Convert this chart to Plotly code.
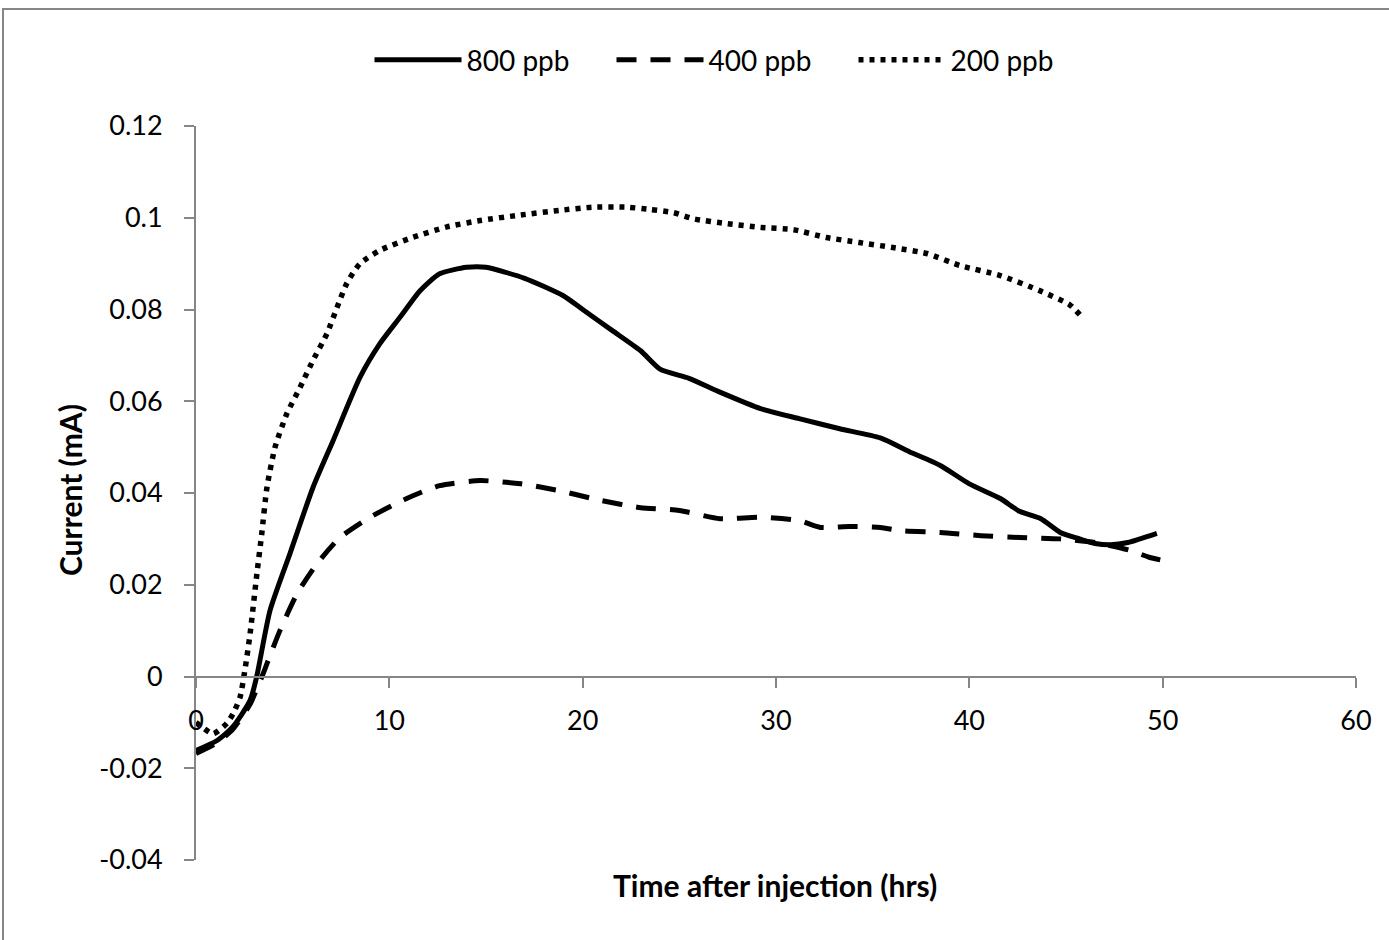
import plotly.graph_objects as go

# 800 ppb (solid)
x800 = [0, 1.07, 1.9, 2.8, 3.14, 3.83, 4.86, 6.05, 7.09, 8.48, 9.52, 10.55, 11.59, 12.6, 14.0, 15.0,
        17.0, 19.0, 20.0, 21.5, 23.0, 24.0, 25.5, 27.1, 29.2, 31.2, 33.3, 35.4, 36.9, 38.5, 40.0,
        41.6, 42.6, 43.7, 44.7, 45.7, 46.5, 47.3, 48.2, 49.7]
y800 = [-0.0161, -0.014, -0.011, -0.0052, 0.0, 0.0144, 0.0268, 0.0412, 0.0514, 0.0652, 0.0726, 0.0783,
        0.0841, 0.0878, 0.0892, 0.0892, 0.0868, 0.083, 0.080, 0.0755, 0.071, 0.067, 0.065, 0.062,
        0.0584, 0.0562, 0.054, 0.052, 0.049, 0.046, 0.042, 0.0388, 0.036, 0.0344, 0.0314, 0.0300,
        0.0290, 0.0287, 0.0292, 0.0312]

# 400 ppb (dashed)
x400 = [0, 1.07, 1.9, 2.8, 3.47, 3.67, 4.34, 5.22, 6.26, 7.45, 9.0, 10.9, 12.6, 14.7, 16.8, 18.8,
        20.9, 23.0, 25.0, 27.1, 29.2, 31.2, 32.3, 33.8, 35.4, 36.4, 38.5, 40.6, 42.6, 44.7, 46.5,
        48.3, 49.3, 50.0]
y400 = [-0.0168, -0.0145, -0.0115, -0.006, 0.0006, 0.0028, 0.010, 0.018, 0.0246, 0.0303, 0.0347,
        0.0388, 0.0416, 0.0427, 0.042, 0.0405, 0.0384, 0.0368, 0.0362, 0.0344, 0.0347, 0.034,
        0.0325, 0.0327, 0.0325, 0.0318, 0.0314, 0.0307, 0.0303, 0.030, 0.0292, 0.0275, 0.026, 0.0253]

# 200 ppb (dotted)
x200 = [0, 0.3, 0.88, 1.6, 1.93, 2.28, 2.54, 2.8, 3.15, 3.4, 3.67, 4.09, 4.7, 5.38, 6.05, 6.78, 7.3,
        7.8, 8.48, 9.52, 11.2, 12.98, 14.7, 16.8, 18.8, 20.5, 22.3, 23.5, 24.7, 25.7, 27.5, 29.2,
        30.9, 32.6, 34.3, 36.05, 37.8, 39.5, 41.6, 43.7, 45.2, 45.9]
y200 = [-0.010, -0.011, -0.0125, -0.0102, -0.008, -0.0045, 0.0017, 0.0094, 0.0224, 0.0311, 0.0412,
        0.050, 0.0573, 0.063, 0.0689, 0.0748, 0.0805, 0.0857, 0.090, 0.0929, 0.0957, 0.098, 0.0994,
        0.1006, 0.1016, 0.1023, 0.1023, 0.1018, 0.1011, 0.0998, 0.0987, 0.0979, 0.0974, 0.0957,
        0.0946, 0.0935, 0.0922, 0.0896, 0.0874, 0.084, 0.081, 0.078]

y_ticks = [-0.04, -0.02, 0, 0.02, 0.04, 0.06, 0.08, 0.1, 0.12]
y_ticklabels = ["-0.04", "-0.02", "0", "0.02", "0.04", "0.06", "0.08", "0.1", "0.12"]
x_ticks = [0, 10, 20, 30, 40, 50, 60]
x_ticklabels = ["0", "10", "20", "30", "40", "50", "60"]

FONT = "Lato, 'Open Sans', sans-serif"
GRAY = "#868686"
TICK_SIZE = 27

fig = go.Figure()
fig.add_trace(go.Scatter(x=x800, y=y800, mode="lines", name="800 ppb",
                         line=dict(color="black", width=5, shape="spline", smoothing=0.6)))
fig.add_trace(go.Scatter(x=x400, y=y400, mode="lines", name="400 ppb",
                         line=dict(color="black", width=5, dash="20px,14px", shape="spline", smoothing=0.6)))
fig.add_trace(go.Scatter(x=x200, y=y200, mode="lines", name="200 ppb",
                         line=dict(color="black", width=5.5, dash="5px,6px", shape="spline", smoothing=0.6)))

fig.update_layout(
    width=1389, height=940,
    margin=dict(l=196, r=33, t=126, b=80),
    paper_bgcolor="white", plot_bgcolor="white",
    font=dict(family=FONT, size=TICK_SIZE, color="black"),
    showlegend=True,
    legend=dict(orientation="h", x=0.4625, y=1.09, xanchor="center", yanchor="middle",
                itemwidth=87, entrywidth=140, entrywidthmode="pixels",
                font=dict(size=28, family=FONT), tracegroupgap=0,
                bgcolor="rgba(0,0,0,0)"),
    xaxis=dict(range=[0, 60], tickvals=x_ticks, ticktext=x_ticklabels,
               showgrid=False, zeroline=False, showline=True, linecolor=GRAY, linewidth=2,
               ticks="outside", ticklen=10, tickcolor=GRAY, tickwidth=2,
               anchor="free", position=0.25, ticklabelstandoff=10,
               tickfont=dict(size=TICK_SIZE, family=FONT, color="black")),
    yaxis=dict(range=[-0.04, 0.12], tickvals=y_ticks, ticktext=y_ticklabels,
               showgrid=False, zeroline=False, showline=True, linecolor=GRAY, linewidth=2,
               ticks="outside", ticklen=10, tickcolor=GRAY, tickwidth=2,
               ticklabelstandoff=16,
               tickfont=dict(size=TICK_SIZE, family=FONT, color="black")),
    annotations=[
        dict(text="<b>Time after injection (hrs)</b>", xref="paper", yref="paper",
             x=0.499, y=-0.034, xanchor="center", yanchor="middle", showarrow=False,
             font=dict(size=30, family=FONT, color="black")),
        dict(text="<b>Current (mA)</b>", xref="paper", yref="paper",
             x=-0.1086, y=0.504, xanchor="center", yanchor="middle", showarrow=False,
             textangle=-90, font=dict(size=30, family=FONT, color="black")),
    ],
    shapes=[
        dict(type="rect", xref="paper", yref="paper",
             x0=(3 - 196) / 1160, x1=(1400 - 196) / 1160,
             y0=(860 - 950) / 734, y1=(860 - 9) / 734,
             line=dict(color=GRAY, width=2), fillcolor="rgba(0,0,0,0)", layer="below"),
    ],
)

fig.write_html("out.html")
